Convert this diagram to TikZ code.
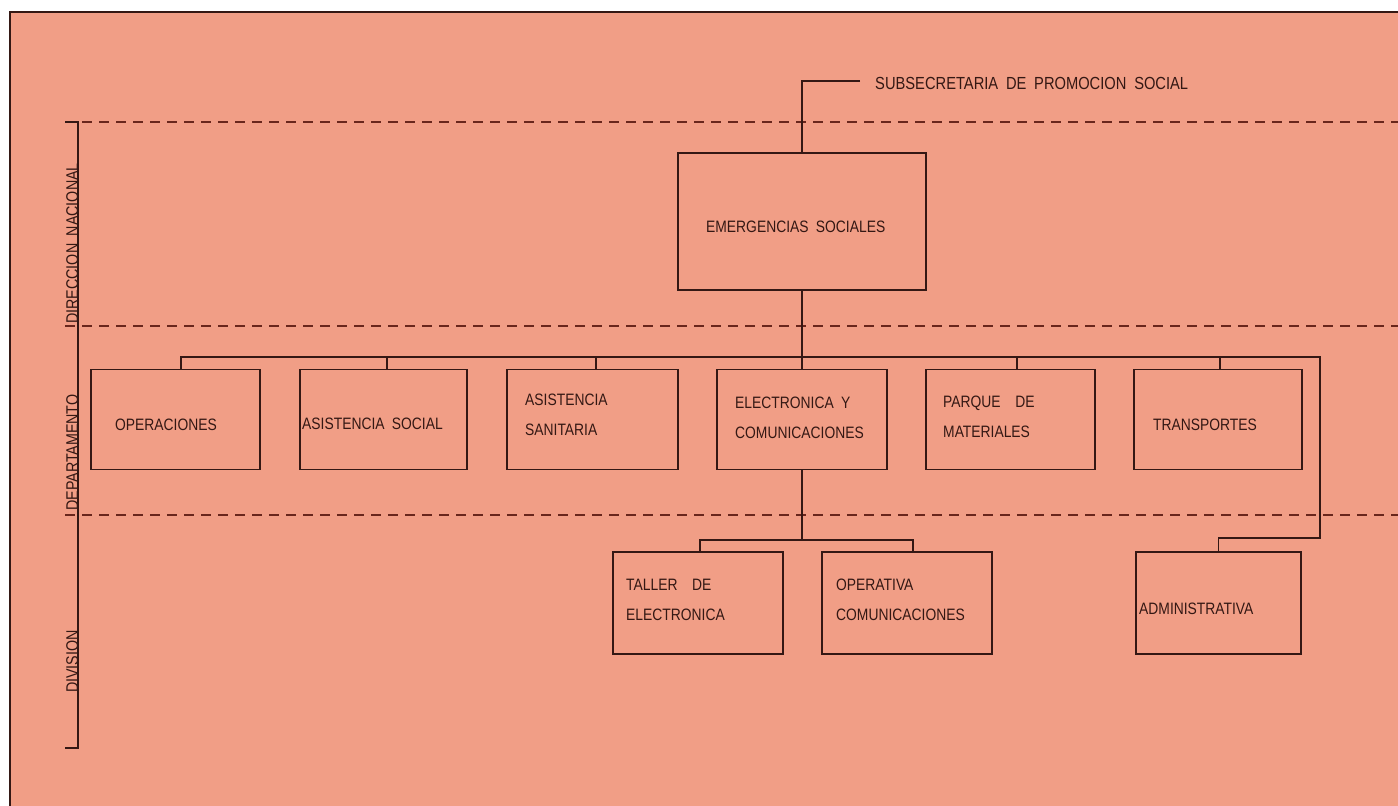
\documentclass[tikz,border=0pt]{standalone}
\usepackage{fontspec}
\setmainfont{Liberation Sans}[FakeStretch=0.84, WordSpace=1.9]
\usetikzlibrary{calc}
\definecolor{paper}{RGB}{241,158,134}
\definecolor{ink}{RGB}{52,24,20}
\definecolor{dashink}{RGB}{105,38,28}
\tikzset{
  boxst/.style={draw=ink, line width=1.8pt, minimum width=#1, minimum height=100pt, inner sep=0pt},
  bigbox/.style={draw=ink, line width=1.8pt, minimum width=248pt, minimum height=137pt, inner sep=0pt},
  txt/.style={text=ink, font=\fontsize{16.5}{30}\selectfont, inner sep=0pt, align=left, anchor=west},
  ltxt/.style={text=ink, font=\fontsize{17}{20}\selectfont, inner sep=0pt, rotate=90},
  conn/.style={draw=ink, line width=1.4pt},
  levelline/.style={draw=dashink, line width=1.3pt, dash pattern=on 10pt off 7pt},
}
\begin{document}
\begin{tikzpicture}[x=1pt,y=-1pt]
\useasboundingbox (0,0) rectangle (1398,806);
\fill[white] (0,0) rectangle (1398,806);
\fill[paper] (10,12) rectangle (1398,806);
\draw[ink, line width=2pt] (10,806) -- (10,12) -- (1398,12);

% level lines
\coordinate (l1a) at (65,122); \coordinate (l1b) at (1398,122);
\coordinate (l2a) at (65,326); \coordinate (l2b) at (1398,326);
\coordinate (l3a) at (65,515); \coordinate (l3b) at (1398,515);
\draw[levelline] (l1a) -- (l1b);
\draw[levelline] (l2a) -- (l2b);
\draw[levelline] (l3a) -- (l3b);
\coordinate (sctop) at (78,122); \coordinate (scbot) at (78,748); \coordinate (sctick) at (65,748);
\draw[ink, line width=1.3pt] (65,122) -- (sctop) -- (scbot) -- (sctick);

% level labels
\node[ltxt, anchor=south west] (lab1) at (78.5,324) {DIRECCION NACIONAL};
\node[ltxt, anchor=south west] (lab2) at (78.5,511) {DEPARTAMENTO};
\node[ltxt, anchor=south west] (lab3) at (78.5,693) {DIVISION};

% top
\node[txt, font=\fontsize{17.5}{30}\selectfont] (sub) at (875,83) {SUBSECRETARIA DE PROMOCION SOCIAL};
\coordinate (subl) at (860,81);
\node[bigbox] (eme) at (802,221.5) {};
\node[txt] (emet) at (706,227) {EMERGENCIAS SOCIALES};
\draw[conn] (subl) -- (eme.north |- subl) -- (eme.north);

% departments
\node[boxst=169pt] (ope) at (175.5,419.5) {};
\node[boxst=167pt] (asi) at (383.5,419.5) {};
\node[boxst=171pt] (san) at (592.5,419.5) {};
\node[boxst=170pt] (ele) at (802,419.5) {};
\node[boxst=169pt] (par) at (1010.5,419.5) {};
\node[boxst=168pt] (tra) at (1218,419.5) {};
\node[txt] (opet) at (115,425) {OPERACIONES};
\node[txt] (asit) at (302,424) {ASISTENCIA SOCIAL};
\node[txt] (sant) at (525,415) {ASISTENCIA\\SANITARIA};
\node[txt] (elet) at (735,418) {ELECTRONICA Y\\COMUNICACIONES};
\node[txt] (part) at (943,417) {PARQUE \ DE\\MATERIALES};
\node[txt] (trat) at (1153,425) {TRANSPORTES};

% divisions
\node[boxst=170pt, minimum height=102pt] (tal) at (698,603) {};
\node[boxst=170pt, minimum height=102pt] (opc) at (907,603) {};
\node[boxst=165pt, minimum height=102pt] (adm) at (1218.5,603) {};
\node[txt] (talt) at (626,600) {TALLER \ DE\\ELECTRONICA};
\node[txt] (opct) at (836,600) {OPERATIVA\\COMUNICACIONES};
\node[txt] (admt) at (1139,609) {ADMINISTRATIVA};

% connectors
\coordinate (bus) at (802,357);
\coordinate (busl) at (181,357);
\coordinate (busr) at (1320,357);
\draw[conn] (eme.south) -- (eme.south |- bus);
\draw[conn] (ope.north -| busl) -- (busl) -- (busr) -- (1320,538) -- (adm.north |- 0,538) -- (adm.north);
\draw[conn] (asi.north -| 387,0) -- (387,357);
\draw[conn] (san.north -| 596,0) -- (596,357);
\draw[conn] (ele.north) -- (ele.north |- bus);
\draw[conn] (par.north -| 1017,0) -- (1017,357);
\draw[conn] (tra.north -| 1220,0) -- (1220,357);
\draw[conn] (ele.south) -- (ele.south |- 0,540);
\draw[conn] (tal.north -| 700,0) -- (700,540) -- (913,540) -- (opc.north -| 913,0);
\end{tikzpicture}
\end{document}
